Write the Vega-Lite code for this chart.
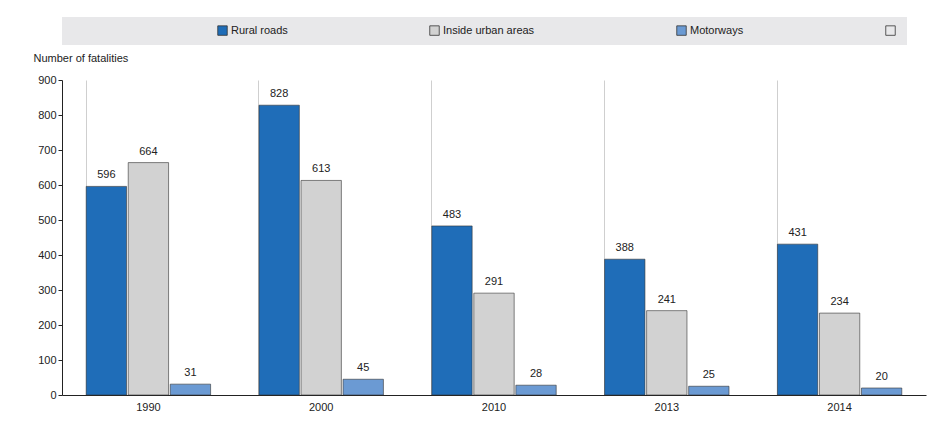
{
  "$schema": "https://vega.github.io/schema/vega-lite/v6.json",
  "width": 864,
  "height": 315,
  "autosize": "none",
  "padding": {"left": 62, "top": 80, "right": 24, "bottom": 35},
  "title": {"text": "Road fatalities by road type", "font": "Liberation Serif", "fontSize": 13, "fontWeight": "bold", "offset": 65, "anchor": "middle", "color": "#222"},
  "config": {
    "font": "Liberation Sans",
    "view": {"stroke": null},
    "axis": {"labelFont": "Liberation Sans", "titleFont": "Liberation Sans", "labelFontSize": 11, "labelColor": "#222", "domainColor": "#222", "tickColor": "#222"}
  },
  "data": {"values": [
    {"year": "1990", "type": "Rural roads", "v": 596},
    {"year": "1990", "type": "Inside urban areas", "v": 664},
    {"year": "1990", "type": "Motorways", "v": 31},
    {"year": "2000", "type": "Rural roads", "v": 828},
    {"year": "2000", "type": "Inside urban areas", "v": 613},
    {"year": "2000", "type": "Motorways", "v": 45},
    {"year": "2010", "type": "Rural roads", "v": 483},
    {"year": "2010", "type": "Inside urban areas", "v": 291},
    {"year": "2010", "type": "Motorways", "v": 28},
    {"year": "2013", "type": "Rural roads", "v": 388},
    {"year": "2013", "type": "Inside urban areas", "v": 241},
    {"year": "2013", "type": "Motorways", "v": 25},
    {"year": "2014", "type": "Rural roads", "v": 431},
    {"year": "2014", "type": "Inside urban areas", "v": 234},
    {"year": "2014", "type": "Motorways", "v": 20}
  ]},
  "encoding": {
    "x": {"field": "year", "type": "nominal", "title": null,
      "scale": {"paddingInner": 0.28, "paddingOuter": 0.14},
      "axis": {"labelAngle": 0, "ticks": false, "grid": true, "bandPosition": 0, "gridColor": "#cfcfcf", "labelPadding": 6}},
    "xOffset": {"field": "type", "type": "nominal", "sort": ["Rural roads", "Inside urban areas", "Motorways"], "scale": {"paddingInner": 0.04}},
    "y": {"field": "v", "type": "quantitative", "scale": {"domain": [0, 900]},
      "axis": {"values": [0,100,200,300,400,500,600,700,800,900], "grid": false, "tickSize": 4, "title": "Number of fatalities", "titleAngle": 0, "titleAlign": "left", "titleX": -29, "titleY": -17, "titleFontWeight": "normal", "titleFontSize": 11, "titleColor": "#222"}}
  },
  "layer": [
    {
      "mark": {"type": "bar", "stroke": "#333", "strokeWidth": 0.6},
      "encoding": {
        "color": {"field": "type", "type": "nominal", "title": null,
          "scale": {"domain": ["Rural roads", "Inside urban areas", "Motorways", "pad"], "range": ["#1f6db8", "#d2d2d2", "#6b9ad3", "#e8e8ea"]},
          "legend": {"orient": "none", "legendX": 0, "legendY": -63, "direction": "horizontal", "fillColor": "#e8e8ea", "padding": 8,
            "columnPadding": 140, "symbolType": "square", "symbolSize": 90, "symbolStrokeWidth": 0.8, "symbolOpacity": 1,
            "labelFontSize": 11, "labelFont": "Liberation Sans", "labelColor": "#222", "labelOffset": 3, "labelLimit": 500,
            "labelExpr": "datum.value == 'pad' ? '' : datum.label",
            "encode": {"symbols": {"update": {"stroke": {"signal": "datum.value == 'pad' ? '#e8e8ea' : '#333'"}}}},
            "title": "________________________",
            "titleColor": "#e8e8ea", "titleOrient": "left", "titleFontSize": 11, "titleFont": "Liberation Sans", "titlePadding": 0, "titleLimit": 500}}
      }
    },
    {
      "mark": {"type": "text", "dy": -11, "fontSize": 11, "color": "#222"},
      "encoding": {"text": {"field": "v", "type": "quantitative"}}
    }
  ]
}
